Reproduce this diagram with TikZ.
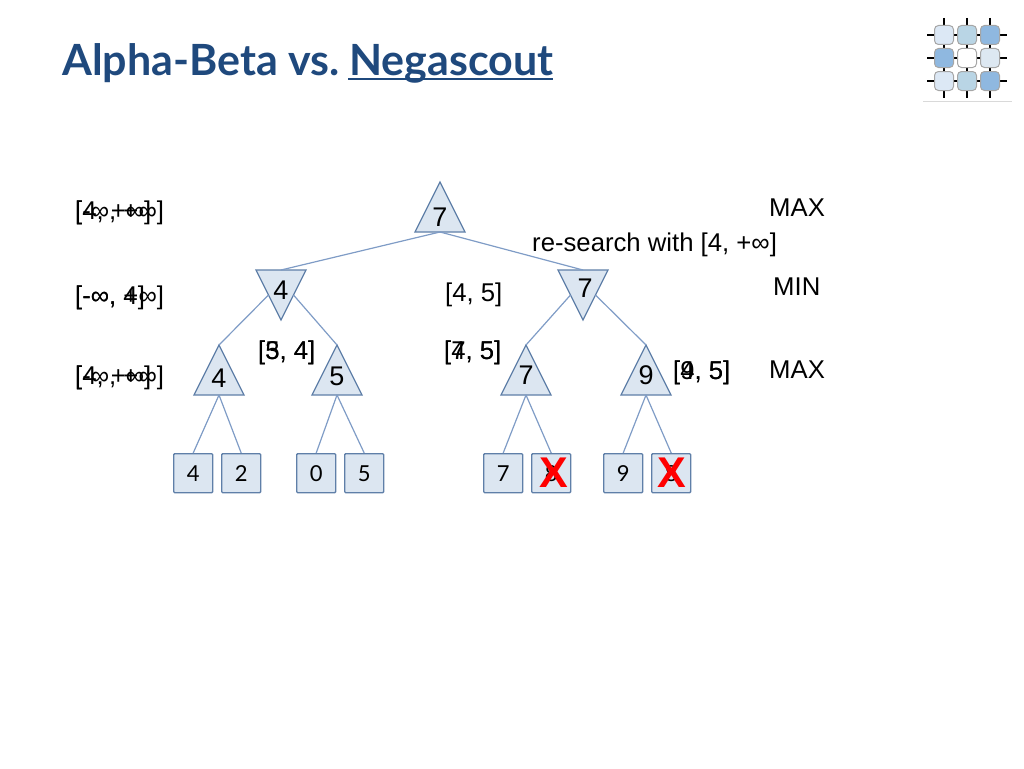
\documentclass[tikz,border=0pt]{standalone}
\usepackage{fontspec}
\setmainfont{Liberation Sans}
\newfontfamily\titlefont{Lato}
\usepackage{tikz}
\usetikzlibrary{shapes.geometric}

\definecolor{titleblue}{HTML}{1F497D}
\definecolor{nodefill}{HTML}{DCE6F1}
\definecolor{nodeline}{HTML}{5F7FA8}
\definecolor{edgeblue}{HTML}{7F9CC6}
\definecolor{logoa}{HTML}{DCE8F5}
\definecolor{logob}{HTML}{B9D5E5}
\definecolor{logoc}{HTML}{8FB8E0}
\definecolor{logod}{HTML}{DDE8F2}

\tikzset{
	tri/.style={draw=nodeline, fill=nodefill, line width=1.3pt, isosceles triangle,
		isosceles triangle stretches, minimum width=50pt, minimum height=50pt,
		inner sep=0pt, outer sep=0pt, anchor=apex},
	maxtri/.style={tri, shape border rotate=90},
	mintri/.style={tri, shape border rotate=270},
	num/.style={inner sep=0pt, font=\fontsize{27}{32}\selectfont},
	leaf/.style={draw=nodeline, fill=nodefill, line width=1.4pt, rounded corners=1pt, minimum size=39pt, inner sep=0pt,
		anchor=north west, font=\titlefont\fontsize{22}{26}\selectfont},
	edge/.style={draw=edgeblue, line width=1.2pt},
	lab/.style={anchor=base west, inner sep=0pt, font=\fontsize{25.7}{30}\selectfont},
	cross/.style={text=red, inner sep=0pt, font=\bfseries\fontsize{43}{50}\selectfont},
	headline/.style={anchor=base west, inner sep=0pt, text=titleblue, font=\titlefont\bfseries\fontsize{43}{50}\selectfont},
	logotile/.style={draw=gray!70, line width=1pt, rounded corners=4pt, minimum size=19pt, inner sep=0pt},
}

\begin{document}
\begin{tikzpicture}[x=1pt, y=-1pt]
	\useasboundingbox (0,0) rectangle (1024,768);

	% title
	\node [headline] (titlea) at (62,75) {Alpha-Beta vs.};
	\node [headline] (titleb) at (349,75) {Negascout};
	\coordinate (ula) at (348,79);
	\coordinate (ulb) at (553,79);
	\draw [titleblue, line width=2.6pt] (ula) -- (ulb);

	% logo
	\foreach \y in {35,58,81} \draw [line width=2.5pt] (927,\y) -- (1007,\y);
	\foreach \x in {944,967,990} \draw [line width=2.5pt] (\x,18) -- (\x,98);
	\foreach \x/\y/\c [count=\i] in {944/35/logoa, 967/35/logob, 990/35/logoc,
		944/58/logoc, 967/58/white, 990/58/logod,
		944/81/logoa, 967/81/logob, 990/81/logoc}
		\node [logotile, fill=\c] (tile\i) at (\x,\y) {};
	\draw [gray!30, line width=1pt] (923,101) -- (1012,101);

	% tree
	\node [maxtri] (root) at (440,182) {};
	\node [mintri] (minl) at (281,320) {};
	\node [mintri] (minr) at (583,320) {};
	\node [maxtri] (maxa) at (219,345) {};
	\node [maxtri] (maxb) at (337,345) {};
	\node [maxtri] (maxc) at (526,345) {};
	\node [maxtri] (maxd) at (646,345) {};

	\node [num] (nroot) at (440,217) {7};
	\node [num] (nminl) at (281,290) {4};
	\node [num] (nminr) at (585,288) {7};
	\node [num] (nmaxa) at (219,378) {4};
	\node [num] (nmaxb) at (337,376) {5};
	\node [num] (nmaxc) at (526,375) {7};
	\node [num] (nmaxd) at (646,375) {9};

	\node [leaf] (la) at (173,453) {4};
	\node [leaf] (lb) at (221,453) {2};
	\node [leaf] (lc) at (296,453) {0};
	\node [leaf] (ld) at (344,453) {5};
	\node [leaf] (le) at (483,453) {7};
	\node [leaf] (lf) at (531,453) {8};
	\node [leaf] (lg) at (603,453) {9};
	\node [leaf] (lh) at (651,453) {8};

	\draw [edge] (root.lower side) -- (minl.lower side);
	\draw [edge] (root.lower side) -- (minr.lower side);
	\draw [edge] (minl.right side) -- (maxa.apex);
	\draw [edge] (minl.left side) -- (maxb.apex);
	\draw [edge] (minr.right side) -- (maxc.apex);
	\draw [edge] (minr.left side) -- (maxd.apex);
	\draw [edge] (maxa.lower side) -- (la.north);
	\draw [edge] (maxa.lower side) -- (lb.north);
	\draw [edge] (maxb.lower side) -- (lc.north);
	\draw [edge] (maxb.lower side) -- (ld.north);
	\draw [edge] (maxc.lower side) -- (le.north);
	\draw [edge] (maxc.lower side) -- (lf.north);
	\draw [edge] (maxd.lower side) -- (lg.north);
	\draw [edge] (maxd.lower side) -- (lh.north);

	\node [cross] (xa) at (554,473) {X};
	\node [cross] (xb) at (672,473) {X};

	% bounds, shown over one another
	\node [lab] (rowa) at (75,219) {[-∞, +∞]};
	\node [lab] (rowb) at (75,219) {[4, +∞]};
	\node [lab] (rowc) at (75,304) {[-∞, +∞]};
	\node [lab] (rowd) at (75,304) {[-∞, 4]};
	\node [lab] (rowe) at (75,384) {[-∞, +∞]};
	\node [lab] (rowf) at (75,384) {[4, +∞]};
	\node [lab] (boa) at (258,359) {[3, 4]};
	\node [lab] (bob) at (258,359) {[5, 4]};
	\node [lab] (boc) at (445,301) {[4, 5]};
	\node [lab] (bod) at (444,359) {[4, 5]};
	\node [lab] (boe) at (444,359) {[7, 5]};
	\node [lab] (bof) at (673,379) {[4, 5]};
	\node [lab] (bog) at (673,379) {[9, 5]};

	\node [lab] (maxtop) at (769,216) {MAX};
	\node [lab] (research) at (532,251) {re-search with [4, +∞]};
	\node [lab] (minmid) at (773,295) {MIN};
	\node [lab] (maxbot) at (769,378) {MAX};
\end{tikzpicture}
\end{document}
